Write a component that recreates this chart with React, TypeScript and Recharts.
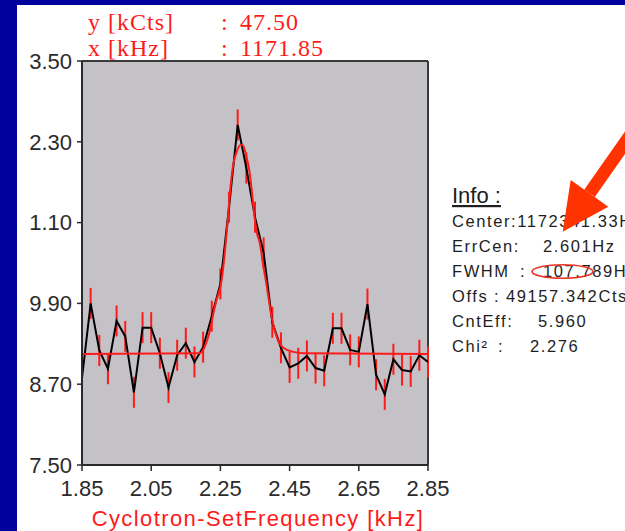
import React from 'react';
import { ComposedChart, Line, XAxis, YAxis, CartesianGrid, ErrorBar, ReferenceLine, Label } from 'recharts';

// measured points (x: set frequency, shown as in the picture; y: kCts)
const freqs = [1.85, 1.875, 1.9, 1.925, 1.95, 1.975, 2.0, 2.025, 2.05, 2.075, 2.1, 2.125, 2.15, 2.175, 2.2, 2.225, 2.25, 2.275, 2.3, 2.325, 2.35, 2.375, 2.4, 2.425, 2.45, 2.475, 2.5, 2.525, 2.55, 2.575, 2.6, 2.625, 2.65, 2.675, 2.7, 2.725, 2.75, 2.775, 2.8, 2.825, 2.85];
const counts = [48.79, 49.9, 49.2, 48.93, 49.64, 49.41, 48.58, 49.54, 49.54, 49.16, 48.65, 49.13, 49.31, 49.03, 49.25, 49.71, 50.19, 51.33, 52.55, 51.91, 51.18, 50.65, 49.62, 49.24, 48.95, 49.01, 49.12, 48.94, 48.9, 49.53, 49.53, 49.21, 49.18, 49.89, 48.84, 48.55, 49.07, 48.91, 48.89, 49.13, 49.03];
const errorHalf = 0.23;

// fitted curve
const fitFreqs = [1.85, 2.19, 2.205, 2.22, 2.23, 2.239, 2.254, 2.263, 2.27, 2.278, 2.287, 2.297, 2.307, 2.315, 2.324, 2.334, 2.341, 2.348, 2.355, 2.365, 2.372, 2.382, 2.398, 2.413, 2.432, 2.461, 2.49, 2.85];
const fitCounts = [49.15, 49.16, 49.26, 49.5, 49.76, 49.95, 50.26, 50.67, 51.06, 51.56, 51.96, 52.15, 52.25, 52.25, 52.1, 51.86, 51.56, 51.21, 50.96, 50.77, 50.52, 50.22, 49.7, 49.4, 49.24, 49.18, 49.16, 49.15];

const xTicks = [1.85, 2.05, 2.25, 2.45, 2.65, 2.85];
const yTicks = [47.5, 48.7, 49.9, 51.1, 52.3, 53.5];
const yTickLabels = ['7.50', '8.70', '9.90', '1.10', '2.30', '3.50'];

const headerRows = [
  { name: 'y [kCts]', value: '47.50' },
  { name: 'x [kHz]', value: '1171.85' },
];

const infoRows = [
  { name: 'Center:', colon: '', value: '1172341.33Hz', vx: 0 },
  { name: 'ErrCen:', colon: '', value: '2.601Hz', vx: 543 },
  { name: 'FWHM', colon: ':', value: '107.789Hz', vx: 543, cx: 520 },
  { name: 'Offs', colon: ':', value: '49157.342Cts', vx: 506, cx: 494 },
  { name: 'CntEff:', colon: '', value: '5.960', vx: 538 },
  { name: 'Chi\u00b2', colon: ':', value: '2.276', vx: 530, cx: 498 },
];

const measured = freqs.map((f, i) => ({ f, c: counts[i], err: errorHalf }));
const fitted = fitFreqs.map((f, i) => ({ f, c: fitCounts[i] }));

const RED = '#ff1a1a';
const SANS = '"Liberation Sans", Arial, sans-serif';
const SERIF = '"Liberation Serif", "Times New Roman", serif';

export default function App() {
  return (
    <div style={{ position: 'absolute', left: 0, top: 0, width: 625, height: 531, background: '#00009c', overflow: 'hidden' }}>
      <div style={{ position: 'absolute', left: 17, top: 5, width: 608, height: 526, background: '#ffffff' }} />
      <div style={{ position: 'absolute', left: 0, top: 0 }}>
        <ComposedChart width={625} height={531} margin={{ top: 61, right: 197, bottom: 0, left: 22 }}>
          <CartesianGrid horizontal={false} vertical={false} fill="#c4c2c6" />
          <XAxis
            dataKey="f"
            type="number"
            domain={[1.85, 2.85]}
            ticks={xTicks}
            allowDataOverflow
            height={66}
            tickSize={6}
            tickMargin={9}
            tickFormatter={(v: number) => v.toFixed(2)}
            axisLine={{ stroke: '#2a2a2a', strokeWidth: 2 }}
            tickLine={{ stroke: '#2a2a2a', strokeWidth: 1.5 }}
            tick={{ fill: '#2b2b2b', fontSize: 22, fontFamily: SANS }}
          >
            <Label
              value="Cyclotron-SetFrequency [kHz]"
              position="insideBottom"
              offset={5}
              dx={3}
              fill={RED}
              fontSize={22}
              fontFamily={SANS}
              letterSpacing={1.4}
            />
          </XAxis>
          <YAxis
            type="number"
            domain={[47.5, 53.5]}
            ticks={yTicks}
            allowDataOverflow
            width={60}
            tickSize={5}
            tickMargin={5}
            tickFormatter={(v: number) => yTickLabels[yTicks.indexOf(v)] ?? ''}
            axisLine={{ stroke: '#2a2a2a', strokeWidth: 2 }}
            tickLine={{ stroke: '#2a2a2a', strokeWidth: 1.5 }}
            tick={{ fill: '#2b2b2b', fontSize: 22, fontFamily: SANS }}
          />
          <ReferenceLine y={53.5} stroke="#3a3a3a" strokeWidth={2} />
          <ReferenceLine x={2.85} stroke="#3a3a3a" strokeWidth={2} />
          <Line
            data={measured}
            dataKey="c"
            type="linear"
            stroke="#000000"
            strokeWidth={2}
            dot={false}
            isAnimationActive={false}
          >
            <ErrorBar dataKey="err" direction="y" width={0} stroke={RED} strokeWidth={2} isAnimationActive={false} />
          </Line>
          <Line
            data={fitted}
            dataKey="c"
            type="monotone"
            stroke={RED}
            strokeWidth={2}
            dot={false}
            isAnimationActive={false}
          />
        </ComposedChart>
      </div>
      <svg width={625} height={531} style={{ position: 'absolute', left: 0, top: 0, pointerEvents: 'none' }}>
        {headerRows.map((r, i) => (
          <g key={r.name} fill={RED} fontFamily={SERIF} fontSize={24} letterSpacing={1}>
            <text x={88} y={29.5 + i * 26}>{r.name}</text>
            <text x={221} y={29.5 + i * 26}>:</text>
            <text x={240} y={29.5 + i * 26}>{r.value}</text>
          </g>
        ))}
        <text x={452} y={203} fontFamily={SANS} fontSize={22} fill="#1e1e1e" textDecoration="underline">Info :</text>
        {infoRows.map((r, i) => {
          const y = 226.7 + i * 25;
          return (
            <g key={r.name} fontFamily={SANS} fontSize={16.5} letterSpacing={1.6} fill="#1e1e1e">
              {r.vx === 0 ? (
                <text x={452} y={y}>{r.name + r.value}</text>
              ) : (
                <>
                  <text x={452} y={y}>{r.name}</text>
                  {r.colon ? <text x={r.cx} y={y}>{r.colon}</text> : null}
                  <text x={r.vx} y={y}>{r.value}</text>
                </>
              )}
            </g>
          );
        })}
        <ellipse cx={562.5} cy={271.5} rx={30.5} ry={6.8} fill="none" stroke="#ee3322" strokeWidth={1.6} />
        <polygon points="584.2,189.7 594.8,197.1 652.2,115.1 641.6,107.7" fill="#ff3300" />
        <polygon points="562.7,231.7 570.7,180 608.3,206.7" fill="#ff3300" />
      </svg>
    </div>
  );
}
